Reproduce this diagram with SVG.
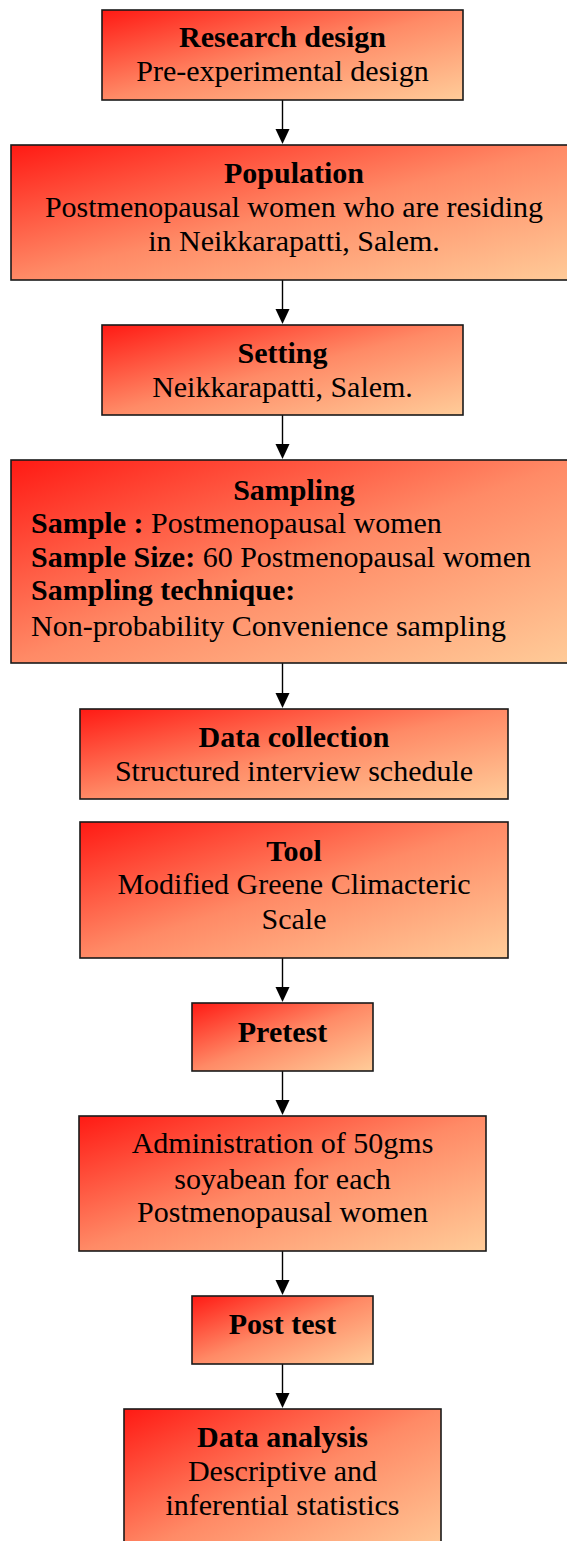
<svg xmlns="http://www.w3.org/2000/svg" width="567" height="1541" viewBox="0 0 567 1541">
<defs>
<linearGradient id="g" x1="0" y1="0" x2="1" y2="1">
<stop offset="0" stop-color="#ff1a14"/>
<stop offset="0.5" stop-color="#ff8a66"/>
<stop offset="1" stop-color="#ffcc99"/>
</linearGradient>
</defs>
<style>
rect.box{fill:url(#g);stroke:#1a1a1a;stroke-width:1.6}
text{font-family:"Liberation Serif","Times New Roman",serif;font-size:30px;fill:#000}
.c{text-anchor:middle}
.b{font-weight:bold}
.conn line{stroke:#000;stroke-width:1.4}
</style>
<rect width="567" height="1541" fill="#fff"/>
<g id="connectors" class="conn">
<line x1="282.5" y1="100" x2="282.5" y2="132"/>
<line x1="282.5" y1="280" x2="282.5" y2="312"/>
<line x1="282.5" y1="415" x2="282.5" y2="447"/>
<line x1="282.5" y1="663" x2="282.5" y2="696"/>
<line x1="282.5" y1="958" x2="282.5" y2="990"/>
<line x1="282.5" y1="1071" x2="282.5" y2="1103"/>
<line x1="282.5" y1="1251" x2="282.5" y2="1283"/>
<line x1="282.5" y1="1364" x2="282.5" y2="1396"/>
</g>
<g id="arrowheads" fill="#000">
<path d="M275.5,129 L289.5,129 L282.5,144 Z"/>
<path d="M275.5,309 L289.5,309 L282.5,324 Z"/>
<path d="M275.5,444 L289.5,444 L282.5,459 Z"/>
<path d="M275.5,693 L289.5,693 L282.5,708 Z"/>
<path d="M275.5,987 L289.5,987 L282.5,1002 Z"/>
<path d="M275.5,1100 L289.5,1100 L282.5,1115 Z"/>
<path d="M275.5,1280 L289.5,1280 L282.5,1295 Z"/>
<path d="M275.5,1393 L289.5,1393 L282.5,1408 Z"/>
</g>
<g id="research-design">
<rect class="box" x="102" y="10" width="361" height="90"/>
<text class="c b" x="282.5" y="47">Research design</text>
<text class="c" x="282.5" y="81">Pre-experimental design</text>
</g>
<g id="population">
<rect class="box" x="11" y="145" width="566" height="135"/>
<text class="c b" x="294" y="183">Population</text>
<text class="c" x="294" y="217">Postmenopausal women who are residing</text>
<text class="c" x="294" y="251">in Neikkarapatti, Salem.</text>
</g>
<g id="setting">
<rect class="box" x="102" y="325" width="361" height="90"/>
<text class="c b" x="282.5" y="363">Setting</text>
<text class="c" x="282.5" y="397">Neikkarapatti, Salem.</text>
</g>
<g id="sampling">
<rect class="box" x="11" y="460" width="566" height="203"/>
<text class="c b" x="294" y="500">Sampling</text>
<text x="31" y="533"><tspan class="b">Sample :</tspan> Postmenopausal women</text>
<text x="31" y="567"><tspan class="b">Sample Size:</tspan> 60 Postmenopausal women</text>
<text class="b" x="31" y="600">Sampling technique:</text>
<text x="31" y="636">Non-probability Convenience sampling</text>
</g>
<g id="data-collection">
<rect class="box" x="80" y="709" width="428" height="90"/>
<text class="c b" x="294" y="747">Data collection</text>
<text class="c" x="294" y="781">Structured interview schedule</text>
</g>
<g id="tool">
<rect class="box" x="80" y="822" width="428" height="136"/>
<text class="c b" x="294" y="861">Tool</text>
<text class="c" x="294" y="894">Modified Greene Climacteric</text>
<text class="c" x="294" y="929">Scale</text>
</g>
<g id="pretest">
<rect class="box" x="192" y="1003" width="181" height="68"/>
<text class="c b" x="282.5" y="1042">Pretest</text>
</g>
<g id="administration">
<rect class="box" x="79" y="1116" width="407" height="135"/>
<text class="c" x="282.5" y="1153">Administration of 50gms</text>
<text class="c" x="282.5" y="1189">soyabean for each</text>
<text class="c" x="282.5" y="1222">Postmenopausal women</text>
</g>
<g id="post-test">
<rect class="box" x="192" y="1296" width="181" height="68"/>
<text class="c b" x="282.5" y="1334">Post test</text>
</g>
<g id="data-analysis">
<rect class="box" x="124" y="1409" width="317" height="150"/>
<text class="c b" x="282.5" y="1447">Data analysis</text>
<text class="c" x="282.5" y="1481">Descriptive and</text>
<text class="c" x="282.5" y="1515">inferential statistics</text>
</g>
</svg>
